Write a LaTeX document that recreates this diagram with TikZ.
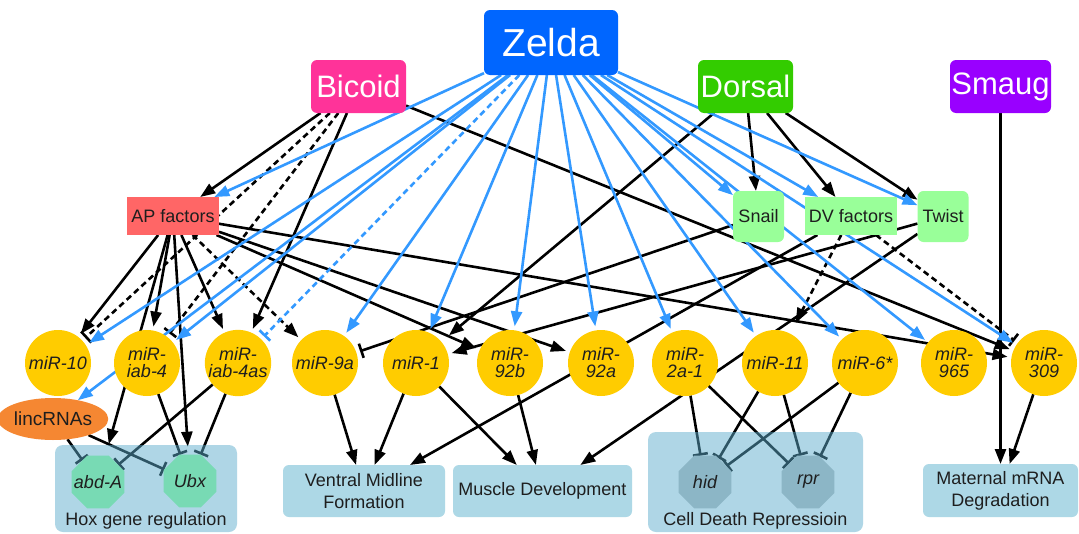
\documentclass[tikz,border=0pt]{standalone}
\usepackage{fontspec}
\setmainfont{Liberation Sans}
\usetikzlibrary{shapes.geometric,arrows.meta}
\pgfdeclarelayer{bgl}
\pgfdeclarelayer{edges}
\pgfdeclarelayer{groups}
\pgfsetlayers{bgl,edges,groups,main}
\definecolor{zelda}{RGB}{0,102,255}
\definecolor{bicoid}{RGB}{255,51,153}
\definecolor{dorsal}{RGB}{51,204,0}
\definecolor{smaug}{RGB}{153,0,255}
\definecolor{apf}{RGB}{255,102,102}
\definecolor{dvg}{RGB}{153,255,153}
\definecolor{mir}{RGB}{255,204,0}
\definecolor{linc}{RGB}{245,135,50}
\definecolor{grp}{RGB}{173,216,230}
\definecolor{grpov}{RGB}{92,173,204}
\definecolor{hoxg}{RGB}{120,218,180}
\definecolor{cdg}{RGB}{140,182,198}
\definecolor{eblue}{RGB}{51,153,255}
\definecolor{txt}{RGB}{30,30,30}
\begin{document}
\begin{tikzpicture}[x=1pt,y=-1pt,
  every node/.style={inner sep=0pt, outer sep=0pt, text=txt},
  topbox/.style={rectangle, rounded corners=6pt, text=white, font=\fontsize{31}{31}\selectfont, minimum width=95pt, minimum height=53pt},
  fac/.style={rectangle, fill=dvg, font=\fontsize{18}{18}\selectfont, minimum width=92pt, minimum height=38pt},
  tf/.style={rectangle, rounded corners=6pt, fill=dvg, font=\fontsize{18}{18}\selectfont, minimum width=51pt, minimum height=51pt},
  mirna/.style={circle, fill=mir, minimum size=66pt, font=\fontsize{18}{17}\itshape\selectfont, align=center},
  oct/.style={regular polygon, regular polygon sides=8, minimum size=57pt},
  octlab/.style={font=\fontsize{18}{18}\itshape\selectfont},
  proc/.style={rectangle, rounded corners=6pt, fill=grp, font=\fontsize{18}{22}\selectfont, align=center, minimum height=52pt},
  grpbox/.style={rectangle, rounded corners=8pt, fill=grpov, fill opacity=0.49},
  ed/.style={line width=2.6pt},
  act/.style={ed, -{Triangle[length=15pt,width=11pt]}},
  inh/.style={ed, -{Bar[width=15pt,line width=2.6pt]}},
  bl/.style={draw=eblue},
  dsh/.style={dash pattern=on 6pt off 4pt},
  tm/.style={shorten >=4pt},
]
\begin{pgfonlayer}{bgl}
\fill[white] (0,0) rectangle (1079,533);
\end{pgfonlayer}
\useasboundingbox (0,0) rectangle (1079,533);

% top regulators
\node[topbox, fill=zelda, minimum width=134pt, minimum height=65pt, font=\fontsize{39}{39}\selectfont] (zel) at (551,42.5) {Zelda};
\node[topbox, fill=bicoid] (bic) at (358.5,86.5) {Bicoid};
\node[topbox, fill=dorsal] (dor) at (745.5,86.5) {Dorsal};
\node[topbox, fill=smaug, minimum width=101pt] (sma) at (1000.5,86.5) {Smaug};

% factors
\node[fac, fill=apf] (ap) at (173,216) {AP factors};
\node[tf] (sna) at (758.5,216.5) {Snail};
\node[fac] (dv) at (851,216) {DV factors};
\node[tf] (twi) at (943,216.5) {Twist};

% miRNAs
\node[mirna] (m10) at (58,363) {miR-10};
\node[mirna] (m4) at (147,363) {miR-\\iab-4};
\node[mirna] (m4as) at (238,363) {miR-\\iab-4as};
\node[mirna] (m9a) at (325,363) {miR-9a};
\node[mirna] (m1) at (416,363) {miR-1};
\node[mirna] (m92b) at (510,363) {miR-\\92b};
\node[mirna] (m92a) at (601,363) {miR-\\92a};
\node[mirna] (m2a) at (685,363) {miR-\\2a-1};
\node[mirna] (m11) at (775,363) {miR-11};
\node[mirna] (m6) at (865,363) {miR-6*};
\node[mirna] (m965) at (954,363) {miR-\\965};
\node[mirna] (m309) at (1044,363) {miR-\\309};

\node[ellipse, fill=linc, minimum width=92pt, minimum height=42pt, font=\fontsize{19}{19}\selectfont] (linc) at (53,419) {lincRNAs};

% targets
\node[oct, fill=hoxg] (abd) at (98,482) {};
\node[octlab] (abdl) at (abd) {abd-A};
\node[oct, fill=hoxg] (ubx) at (190,481) {};
\node[octlab] (ubxl) at (ubx) {Ubx};
\node[oct, fill=cdg] (hid) at (705,482) {};
\node[octlab] (hidl) at (hid) {hid};
\node[oct, fill=cdg] (rpr) at (808,482) {};
\node[octlab] (rprl) at (rpr) {rpr};
\node[font=\fontsize{18}{18}\selectfont] (hoxl) at (146,521) {Hox gene regulation};
\node[font=\fontsize{18}{18}\selectfont] (cdl) at (755.5,521) {Cell Death Repressioin};

\node[proc, minimum width=162pt] (vmf) at (364,491) {Ventral Midline\\Formation};
\node[proc, minimum width=179pt] (md) at (542.5,491) {Muscle Development};
\node[proc, minimum width=155pt, minimum height=53pt] (mat) at (1000.5,490.5) {Maternal mRNA\\Degradation};

\begin{pgfonlayer}{groups}
\node[grpbox, minimum width=182pt, minimum height=87pt] (hox) at (146,488.5) {};
\node[grpbox, minimum width=215pt, minimum height=100pt] (cd) at (755.5,482) {};
\end{pgfonlayer}

\begin{pgfonlayer}{edges}
% black regulatory edges
\draw[act] (bic) -- (ap);
\draw[inh, dsh, tm] (bic) -- (m10);
\draw[inh, dsh, tm] (bic) -- (m4);
\draw[act, tm] (bic) -- (m4as);
\draw[act, tm] (bic) -- (m309);

\draw[act, tm] (ap) -- (m10);
\draw[act, shorten >=12pt] (ap) -- (abd);
\draw[act, tm] (ap) -- (m4);
\draw[act, shorten >=8pt] (ap) -- (ubx);
\draw[act, tm] (ap) -- (m4as);
\draw[act, dsh, tm] (ap) -- (m9a);
\draw[act, tm] (ap) -- (m92b);
\draw[act, tm] (ap) -- (m92a);
\draw[act, tm] (ap) -- (m309);

\draw[act] (dor) -- (sna);
\draw[act] (dor) -- (dv);
\draw[act] (dor) -- (twi);
\draw[act, shorten >=10pt] (dor) -- (m1);
\draw[inh, tm] (sna) -- (m9a);
\draw[act] (dv) -- (vmf);
\draw[act, dsh, shorten >=12pt] (dv) -- (m11);
\draw[inh, dsh, tm] (dv) -- (m309);
\draw[act, tm] (twi) -- (m1);
\draw[act] (twi) -- (md);
\draw[act] (sma) -- (mat);

\draw[inh] (linc) -- (abd);
\draw[inh] (linc) -- (ubx);
\draw[inh] (m4) -- (ubx);
\draw[inh] (m4as) -- (abd);
\draw[inh] (m4as) -- (ubx);

\draw[act] (m9a) -- (vmf);
\draw[act] (m1) -- (vmf);
\draw[act] (m1) -- (md);
\draw[act] (m92b) -- (md);
\draw[inh] (m2a) -- (hid);
\draw[inh] (m2a) -- (rpr);
\draw[inh] (m11) -- (hid);
\draw[inh] (m11) -- (rpr);
\draw[inh] (m6) -- (hid);
\draw[inh] (m6) -- (rpr);
\draw[act] (m309) -- (mat);

% Zelda edges
\draw[act, bl] (zel) -- (ap);
\draw[act, bl] (zel) -- (linc);
\draw[act, bl, tm] (zel) -- (m10);
\draw[act, bl, tm] (zel) -- (m4);
\draw[inh, bl, dsh, tm] (zel) -- (m4as);
\draw[act, bl, tm] (zel) -- (m9a);
\draw[act, bl, tm] (zel) -- (m1);
\draw[act, bl, tm] (zel) -- (m92b);
\draw[act, bl, tm] (zel) -- (m92a);
\draw[act, bl, tm] (zel) -- (m2a);
\draw[act, bl, tm] (zel) -- (m11);
\draw[act, bl, tm] (zel) -- (m6);
\draw[act, bl, tm] (zel) -- (m965);
\draw[act, bl, tm] (zel) -- (m309);
\draw[act, bl] (zel) -- (sna);
\draw[act, bl] (zel) -- (dv);
\draw[act, bl] (zel) -- (twi);
\end{pgfonlayer}
\end{tikzpicture}
\end{document}
